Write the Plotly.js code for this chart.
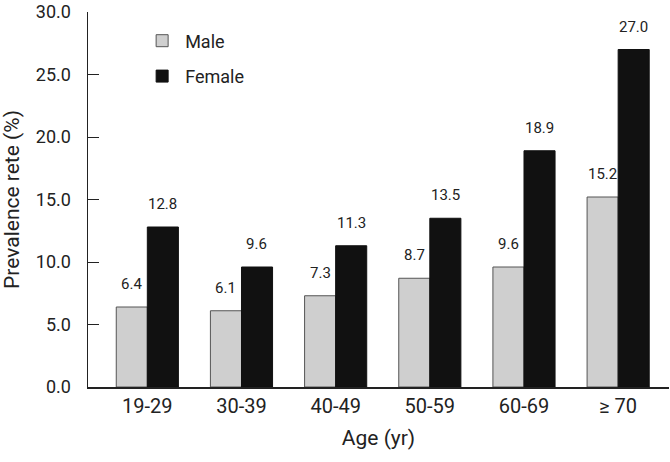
<!DOCTYPE html>
<html>
<head>
<meta charset="utf-8">
<script src="https://cdn.plot.ly/plotly-3.0.1.min.js"></script>
<style>html,body{margin:0;padding:0;background:#fff;}#chart{width:670px;height:462px;}</style>
</head>
<body>
<div id="chart"></div>
<script>
var categories = ["19-29", "30-39", "40-49", "50-59", "60-69", "\u2265 70"];
var maleValues = [6.4, 6.1, 7.3, 8.7, 9.6, 15.2];
var femaleValues = [12.8, 9.6, 11.3, 13.5, 18.9, 27.0];
var yTickVals = [0, 5, 10, 15, 20, 25, 30];
var yTickText = ["0.0", "5.0", "10.0", "15.0", "20.0", "25.0", "30.0"];

var FONT = "Roboto, 'Liberation Sans', sans-serif";

var male = {
  type: 'bar', name: 'Male', x: categories, y: maleValues,
  marker: {color: '#cfcfcf', line: {color: '#555555', width: 1}},
  legendgroup: 'm'
};
var female = {
  type: 'bar', name: 'Female', x: categories, y: femaleValues,
  marker: {color: '#111111', line: {color: '#111111', width: 1}},
  legendgroup: 'f'
};

var annotations = [];
categories.forEach(function (c, i) {
  annotations.push({x: c, y: maleValues[i], text: maleValues[i].toFixed(1), showarrow: false,
    xshift: -15.5, yshift: 23, yanchor: 'middle', font: {family: FONT, size: 15, color: '#222'}});
  annotations.push({x: c, y: femaleValues[i], text: femaleValues[i].toFixed(1), showarrow: false,
    xshift: 15.5, yshift: 23, yanchor: 'middle', font: {family: FONT, size: 15, color: '#222'}});
});

var layout = {
  width: 670, height: 462,
  margin: {l: 88, r: 1, t: 12, b: 75},
  paper_bgcolor: '#ffffff', plot_bgcolor: '#ffffff',
  font: {family: FONT, color: '#222'},
  barmode: 'group', bargap: 0.34, bargroupgap: 0,
  showlegend: true,
  legend: {x: 0.088, y: 0.972, xanchor: 'left', yanchor: 'top', bgcolor: 'rgba(0,0,0,0)',
    font: {family: FONT, size: 18, color: '#222'}, traceorder: 'grouped', tracegroupgap: 9,
    itemwidth: 36},
  xaxis: {
    type: 'category', range: [-0.63, 5.54],
    showline: true, linecolor: '#222', linewidth: 1.5,
    ticks: '', showgrid: false, zeroline: false,
    tickfont: {family: FONT, size: 20, color: '#222'},
    title: {text: 'Age (yr)', font: {family: FONT, size: 21, color: '#222'}, standoff: 14}
  },
  yaxis: {
    range: [0, 30], tickvals: yTickVals, ticktext: yTickText,
    showline: true, linecolor: '#222', linewidth: 1.5,
    ticks: 'inside', ticklen: 11, tickcolor: '#222', tickwidth: 1,
    ticklabelstandoff: 12, ticklabeloverflow: 'allow',
    showgrid: false, zeroline: false,
    tickfont: {family: FONT, size: 18, color: '#222'},
    title: {text: 'Prevalence rete (%)', font: {family: FONT, size: 21, color: '#222'}, standoff: 13}
  },
  annotations: annotations
};

Plotly.newPlot('chart', [male, female], layout, {staticPlot: true, displayModeBar: false});
</script>
</body>
</html>
